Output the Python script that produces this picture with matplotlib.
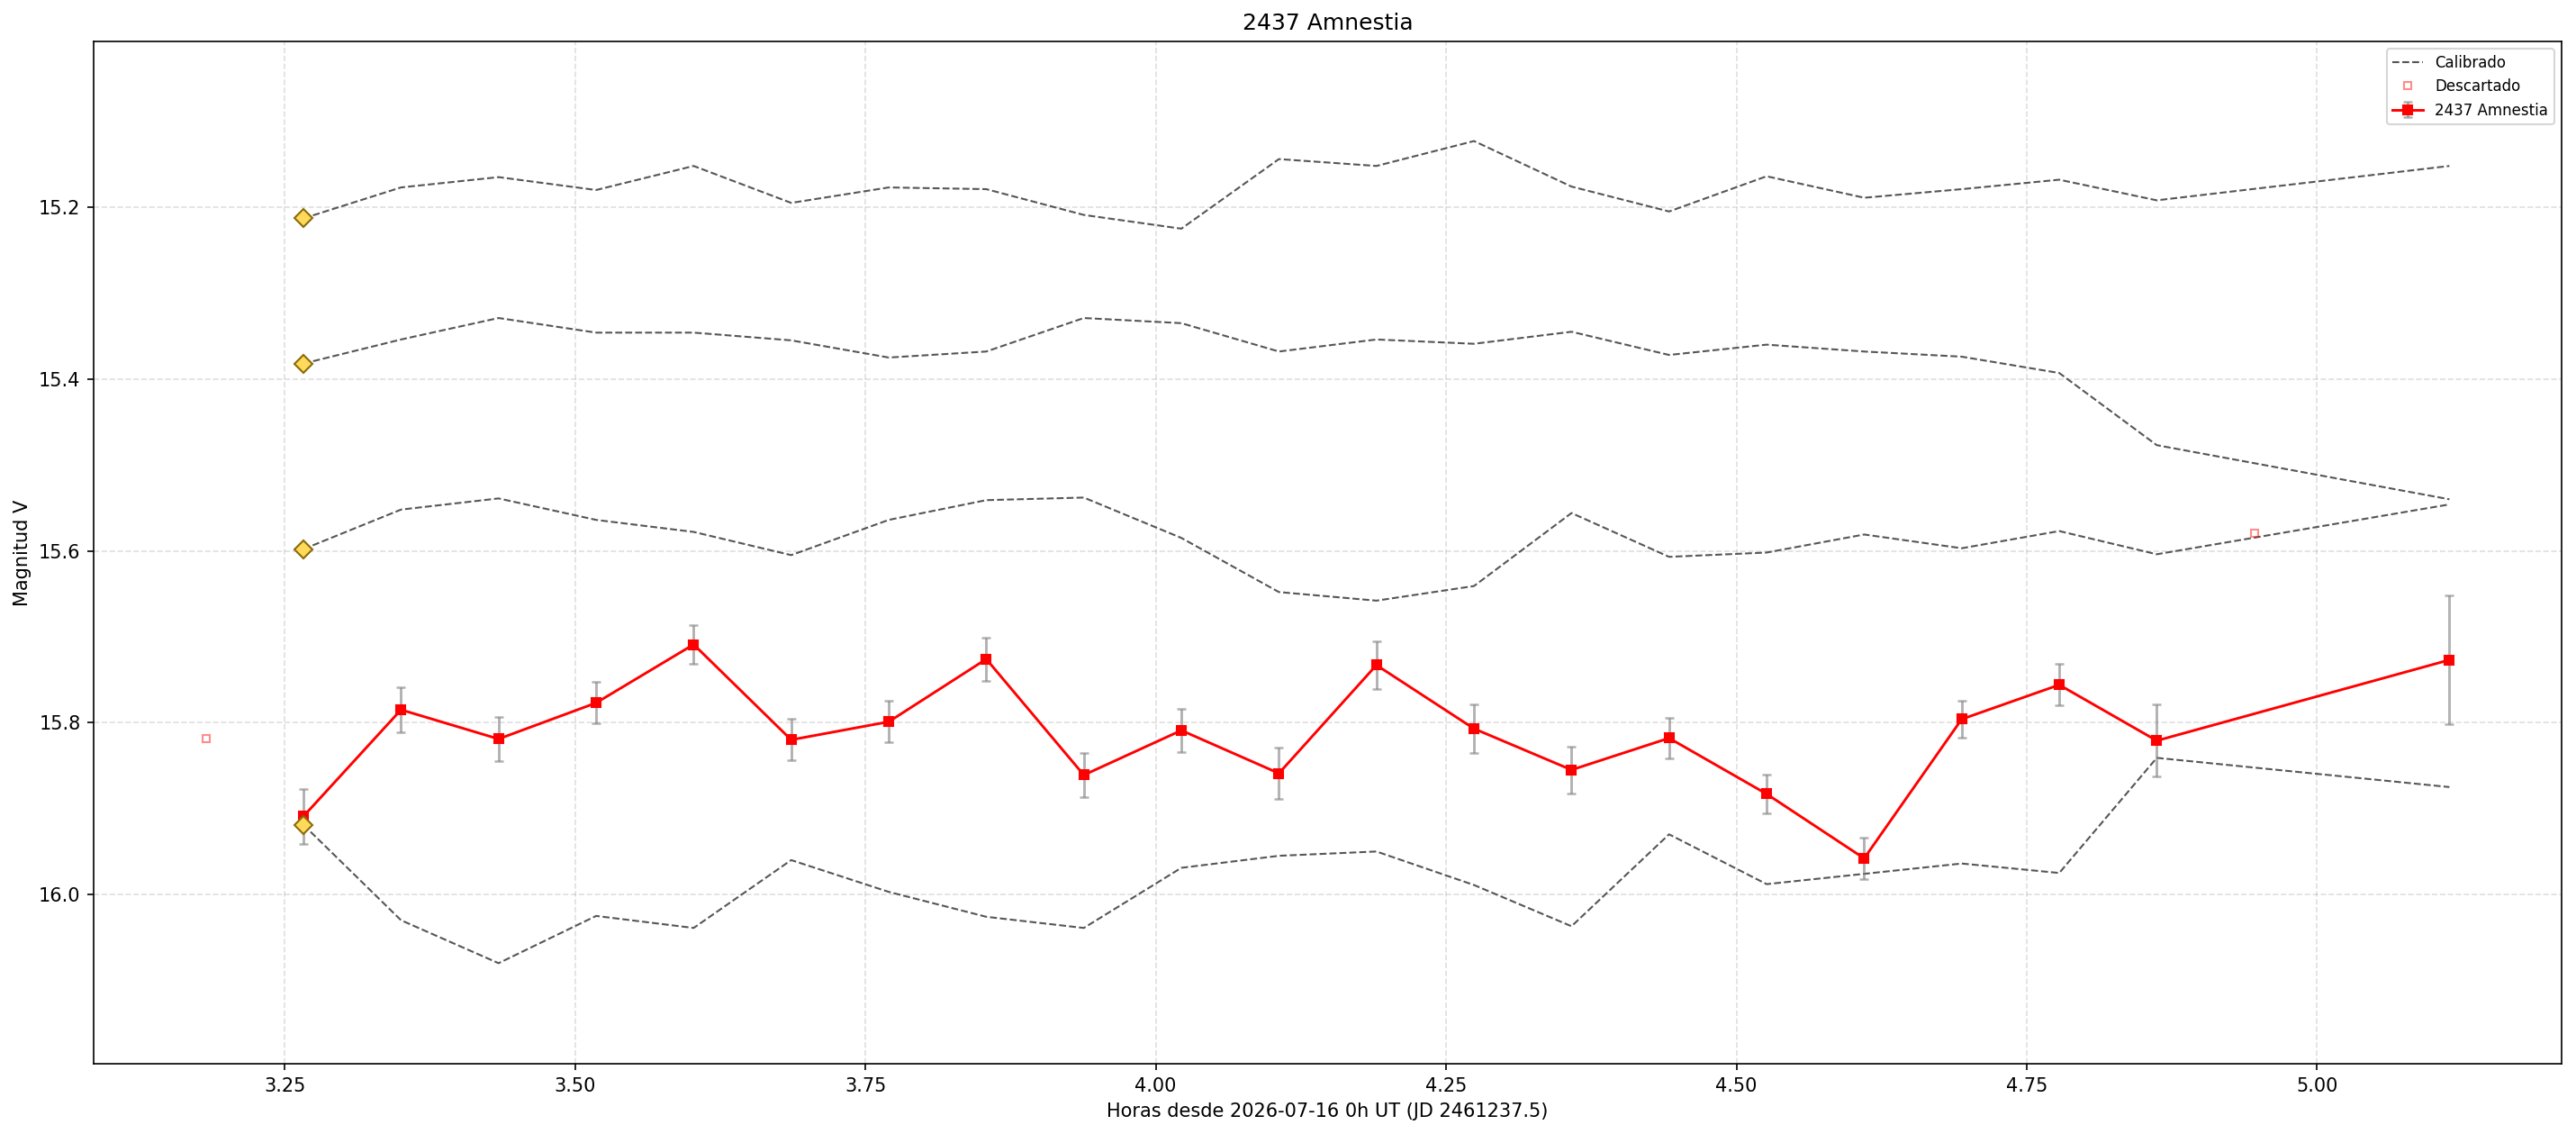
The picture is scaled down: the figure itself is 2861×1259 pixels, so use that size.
import matplotlib
matplotlib.use("Agg")
import matplotlib.pyplot as plt

# ---- data ----
times = [3.266, 3.350, 3.434, 3.518, 3.602, 3.686, 3.770, 3.854, 3.938, 4.022,
         4.106, 4.190, 4.274, 4.358, 4.442, 4.526, 4.610, 4.694, 4.778, 4.862, 5.114]

target_mag = [15.909, 15.785, 15.819, 15.777, 15.709, 15.820, 15.799, 15.726, 15.861, 15.809,
              15.859, 15.733, 15.807, 15.855, 15.818, 15.883, 15.958, 15.796, 15.756, 15.821, 15.727]
target_err = [0.032, 0.026, 0.026, 0.024, 0.023, 0.024, 0.024, 0.025, 0.026, 0.025,
              0.030, 0.028, 0.028, 0.027, 0.024, 0.023, 0.024, 0.021, 0.024, 0.042, 0.075]

comp1 = [15.213, 15.177, 15.165, 15.180, 15.152, 15.195, 15.177, 15.179, 15.209, 15.225,
         15.144, 15.152, 15.123, 15.176, 15.205, 15.164, 15.189, 15.179, 15.168, 15.192, 15.152]
comp2 = [15.382, 15.354, 15.329, 15.346, 15.346, 15.355, 15.375, 15.368, 15.329, 15.335,
         15.368, 15.354, 15.359, 15.345, 15.372, 15.360, 15.368, 15.374, 15.393, 15.477, 15.540]
comp3 = [15.598, 15.552, 15.539, 15.564, 15.578, 15.605, 15.564, 15.541, 15.538, 15.585,
         15.648, 15.658, 15.641, 15.556, 15.607, 15.602, 15.581, 15.597, 15.577, 15.604, 15.546]
comp4 = [15.919, 16.030, 16.080, 16.025, 16.039, 15.960, 15.997, 16.026, 16.039, 15.969,
         15.955, 15.950, 15.989, 16.037, 15.930, 15.988, 15.976, 15.964, 15.975, 15.841, 15.875]
comps = [comp1, comp2, comp3, comp4]

disc_times = [3.182, 4.946]
disc_mag = [15.819, 15.580]

title = "2437 Amnestia"
xlabel = "Horas desde 2026-07-16 0h UT (JD 2461237.5)"
ylabel = "Magnitud V"
y_limits = (16.197, 15.007)

# ---- plot ----
fig, ax = plt.subplots(figsize=(2861/150, 1259/150), dpi=150)
fig.subplots_adjust(left=0.0364, right=0.9944, top=0.9635, bottom=0.062)

for k, c in enumerate(comps):
    ax.plot(times, c, linestyle='--', color='#444444', linewidth=1.0, alpha=0.9,
            label='Calibrado' if k == 0 else None, zorder=2)

ax.plot(disc_times, disc_mag, linestyle='none', marker='s', markersize=4,
        markerfacecolor='none', markeredgecolor='red', markeredgewidth=1.0,
        alpha=0.45, label='Descartado', zorder=3)

ax.errorbar(times, target_mag, yerr=target_err, fmt='s-', color='red',
            markersize=5, linewidth=1.4, ecolor='gray', elinewidth=1.4,
            capsize=2.5, capthick=1.2, label=title, zorder=4)
# make error bars light
for coll in ax.containers[-1].lines[2]:
    coll.set_alpha(0.6)
for cap in ax.containers[-1].lines[1]:
    cap.set_alpha(0.6)

for c in comps:
    ax.plot([times[0]], [c[0]], linestyle='none', marker='D', markersize=7,
            markerfacecolor='#FFD95A', markeredgecolor='#8B6B0A',
            markeredgewidth=1.0, zorder=5)

ax.set_ylim(*y_limits)
ax.set_title(title, fontsize=12)
ax.set_xlabel(xlabel, fontsize=10)
ax.set_ylabel(ylabel, fontsize=10)
ax.grid(True, linestyle='--', alpha=0.4)
ax.legend(loc='upper right', fontsize=8)

fig.savefig("out.png", dpi=150)
